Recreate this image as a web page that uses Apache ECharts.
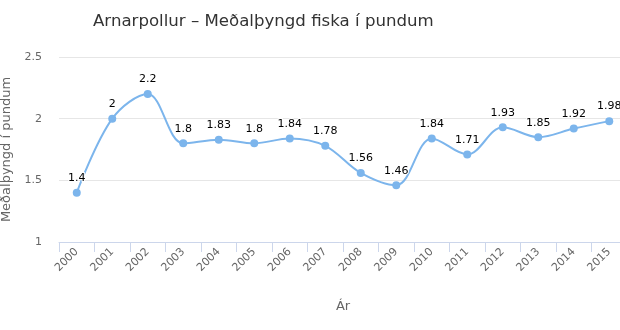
<!DOCTYPE html>
<html><head><meta charset="utf-8">
<script src="https://cdn.jsdelivr.net/npm/echarts@6/dist/echarts.min.js"></script>
<style>html,body{margin:0;padding:0;background:#fff}#c{width:620px;height:330px}</style>
</head><body><div id="c"></div>
<script>
var years = ['2000','2001','2002','2003','2004','2005','2006','2007','2008','2009','2010','2011','2012','2013','2014','2015'];
var weights = [1.4, 2, 2.2, 1.8, 1.83, 1.8, 1.84, 1.78, 1.56, 1.46, 1.84, 1.71, 1.93, 1.85, 1.92, 1.98];
var yTicks = [1, 1.5, 2, 2.5];
var titleText = 'Arnarpollur – Meðalþyngd fiska í pundum';
var yName = 'Meðalþyngd í pundum';
var xName = 'Ár';
var F = '"DejaVu Sans", Verdana, sans-serif';
var chart = echarts.init(document.getElementById('c'));
chart.setOption({
  animation: false,
  title: { text: titleText, left: 88, top: 8, textStyle: { fontFamily: F, fontSize: 16.6, fontWeight: 'normal', color: '#333' } },
  grid: { left: 59, top: 57, width: 568, height: 185, containLabel: false, outerBoundsMode: 'none' },
  xAxis: {
    type: 'category', data: years, boundaryGap: true,
    name: xName, nameLocation: 'middle', nameGap: 58,
    nameTextStyle: { fontFamily: F, fontSize: 13, color: '#666' },
    axisLine: { lineStyle: { color: '#ccd6eb' } },
    axisTick: { show: true, length: 10, alignWithLabel: false, lineStyle: { color: '#ccd6eb' } },
    axisLabel: { rotate: 45, margin: 8, fontFamily: F, fontSize: 11, color: '#666' },
    splitLine: { show: false }
  },
  yAxis: {
    type: 'value', min: yTicks[0], max: yTicks[yTicks.length-1], interval: 0.5,
    name: yName, nameLocation: 'middle', nameGap: 41,
    nameTextStyle: { fontFamily: F, fontSize: 13, color: '#666' },
    axisLine: { show: false }, axisTick: { show: false },
    axisLabel: { margin: 17, fontFamily: F, fontSize: 11, color: '#666' },
    splitLine: { lineStyle: { color: '#e6e6e6' } }
  },
  series: [{
    type: 'line', data: weights, smooth: 0.35,
    symbol: 'circle', symbolSize: 8,
    lineStyle: { color: '#7cb5ec', width: 2 },
    itemStyle: { color: '#7cb5ec' },
    label: { show: true, position: 'top', distance: 5, fontFamily: F, fontSize: 11, fontWeight: 'normal', color: '#000', textBorderColor: '#fff', textBorderWidth: 2 }
  }]
});
</script></body></html>
